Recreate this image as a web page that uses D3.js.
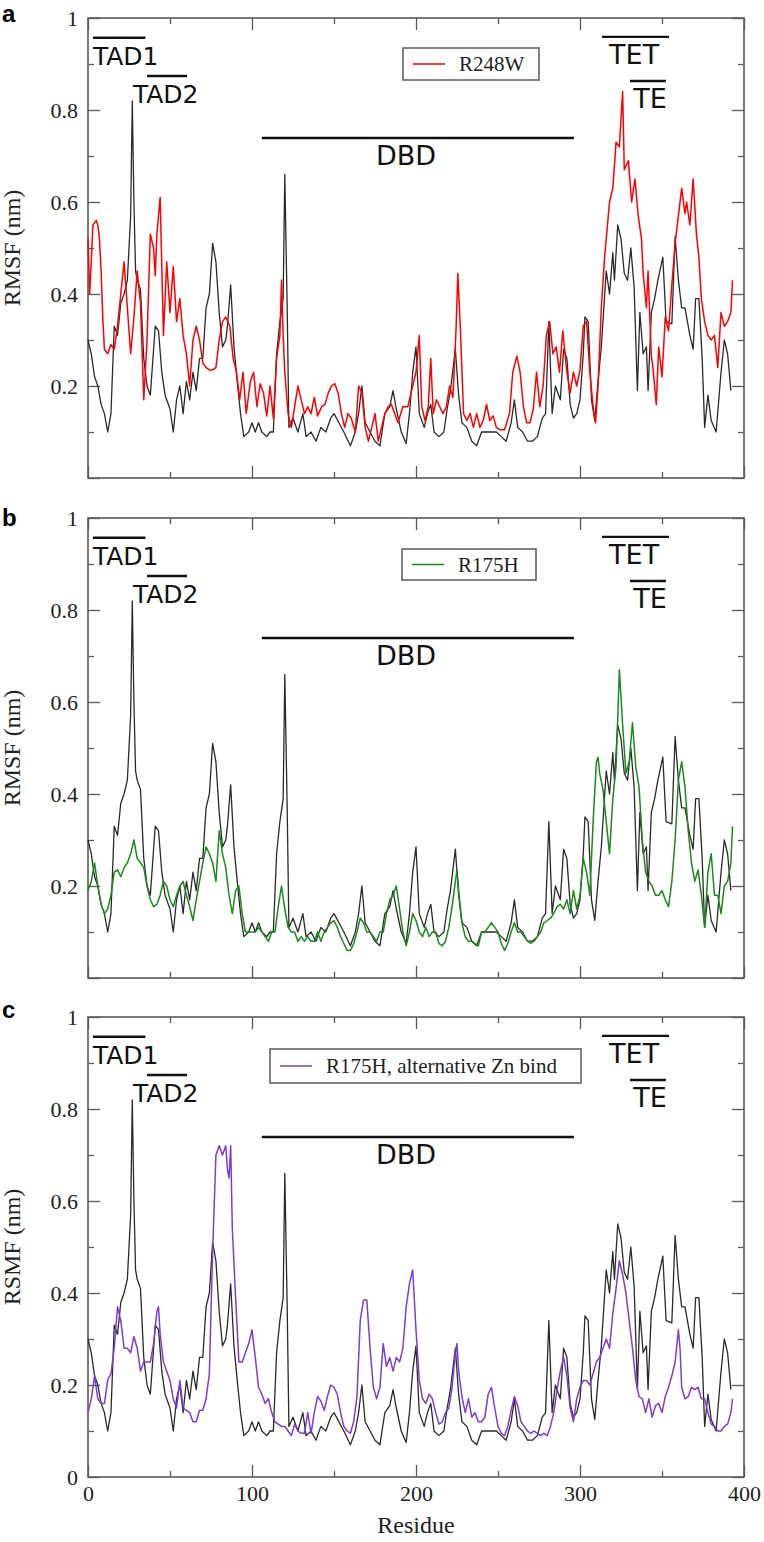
<!DOCTYPE html>
<html>
<head>
<meta charset="utf-8">
<script src="https://cdn.jsdelivr.net/npm/d3@7"></script>
<style>
  body { margin: 0; background: #fff; }
</style>
</head>
<body>
<div id="chart"></div>
<script>
// residue, RMSF (nm)
const wildType = [[0,0.30],[2,0.27],[4,0.22],[6,0.20],[8,0.16],[10,0.14],[12,0.10],[14,0.14],[16,0.33],[18,0.31],[20,0.38],[22,0.40],[24,0.43],[26,0.57],[27,0.82],[28,0.6],[29,0.45],[30,0.43],[32,0.41],[34,0.26],[36,0.20],[38,0.18],[40,0.28],[41,0.33],[43,0.32],[45,0.23],[47,0.18],[50,0.15],[52,0.10],[54,0.17],[56,0.20],[58,0.14],[60,0.21],[62,0.17],[64,0.23],[66,0.19],[68,0.26],[70,0.26],[72,0.37],[74,0.40],[76,0.51],[78,0.47],[80,0.36],[82,0.285],[84,0.30],[85,0.33],[87,0.42],[89,0.285],[91,0.21],[93,0.14],[95,0.09],[98,0.10],[100,0.12],[102,0.10],[104,0.12],[106,0.10],[109,0.09],[111,0.10],[113,0.10],[115,0.27],[117,0.34],[119,0.39],[120,0.66],[121.5,0.36],[122.5,0.11],[125,0.13],[128,0.10],[131,0.14],[133,0.09],[136,0.10],[139,0.08],[142,0.11],[145,0.10],[148,0.13],[150,0.14],[153,0.12],[156,0.10],[160,0.07],[163,0.10],[165,0.14],[167,0.20],[169,0.12],[172,0.10],[175,0.08],[178,0.07],[181,0.14],[184,0.155],[186,0.19],[188,0.15],[191,0.10],[194,0.075],[196,0.14],[198,0.23],[200,0.285],[202,0.14],[205,0.11],[207,0.14],[209,0.16],[211,0.10],[214,0.09],[217,0.10],[219,0.15],[221,0.19],[224,0.28],[226,0.18],[228,0.12],[231,0.11],[234,0.08],[237,0.07],[240,0.10],[243,0.10],[246,0.10],[249,0.10],[252,0.09],[255,0.08],[258,0.12],[260,0.17],[262,0.11],[265,0.10],[268,0.08],[271,0.08],[274,0.09],[277,0.13],[279,0.14],[281,0.34],[283,0.14],[285,0.20],[288,0.17],[290,0.28],[292,0.26],[294,0.16],[296,0.13],[298,0.14],[300,0.17],[302,0.27],[303,0.35],[305,0.34],[307,0.17],[309,0.125],[311,0.21],[313,0.285],[316,0.45],[318,0.40],[320,0.49],[321,0.43],[323,0.55],[325,0.52],[327,0.445],[329,0.43],[331,0.50],[333,0.415],[335,0.19],[336.5,0.36],[338.5,0.27],[340.5,0.285],[341.5,0.19],[343.5,0.36],[345.5,0.39],[347.5,0.43],[350.5,0.48],[352.5,0.34],[356,0.335],[358,0.525],[360,0.43],[362,0.37],[364,0.37],[367,0.31],[369,0.28],[370.5,0.39],[372.5,0.39],[374.5,0.26],[376,0.11],[378,0.18],[380,0.125],[383,0.10],[386,0.23],[388,0.30],[390,0.27],[392,0.19]]

const r248w = [[0,0.52],[1,0.40],[2,0.47],[3,0.55],[5,0.56],[6,0.55],[7,0.52],[8,0.45],[9,0.35],[10,0.28],[12,0.27],[14,0.29],[16,0.28],[18,0.33],[20,0.40],[22,0.47],[24,0.37],[26,0.27],[28,0.35],[30,0.45],[32,0.38],[34,0.17],[36,0.30],[38,0.53],[40,0.50],[41,0.44],[42,0.53],[44,0.61],[46,0.31],[48,0.47],[50,0.36],[52,0.46],[54,0.34],[56,0.39],[58,0.31],[60,0.27],[62,0.20],[64,0.30],[66,0.33],[68,0.30],[70,0.25],[72,0.24],[74,0.235],[76,0.235],[78,0.24],[80,0.30],[82,0.34],[84,0.35],[86.5,0.33],[88.5,0.26],[90.5,0.23],[92.5,0.17],[94.5,0.23],[96.5,0.14],[99,0.21],[101,0.23],[103,0.155],[105,0.205],[107,0.185],[109,0.135],[111,0.20],[113,0.13],[115,0.26],[117,0.31],[118,0.43],[119,0.31],[120,0.23],[122,0.14],[124,0.11],[126,0.155],[128,0.20],[130,0.17],[132,0.14],[134,0.155],[136,0.14],[138,0.175],[140,0.135],[142.5,0.155],[144.5,0.16],[146.5,0.185],[148.5,0.20],[150.5,0.205],[152.5,0.185],[154.5,0.14],[156.5,0.11],[158.5,0.14],[160.5,0.13],[163,0.10],[165,0.20],[167,0.185],[169,0.11],[171,0.08],[173,0.11],[175,0.14],[177,0.08],[179,0.11],[181,0.14],[183,0.155],[185,0.16],[187,0.14],[189,0.12],[192,0.155],[195,0.155],[198,0.20],[200,0.23],[202,0.31],[203.5,0.155],[205.5,0.125],[207.5,0.155],[209,0.26],[210.5,0.14],[212.5,0.17],[214.5,0.155],[216.5,0.14],[218.5,0.155],[220.5,0.20],[222.5,0.175],[224.5,0.33],[225.5,0.445],[227,0.33],[229,0.14],[231,0.125],[233,0.14],[235,0.11],[237,0.14],[239,0.11],[241,0.125],[243,0.16],[245,0.125],[247,0.135],[249,0.11],[251,0.105],[254,0.105],[257,0.14],[259,0.23],[261.5,0.265],[263.5,0.23],[265.5,0.155],[267.5,0.12],[269.5,0.12],[271.5,0.15],[273.5,0.23],[275.5,0.155],[277.5,0.20],[279.5,0.31],[281.5,0.34],[283.5,0.27],[285.5,0.285],[287.5,0.23],[289.5,0.32],[292,0.23],[294,0.185],[296,0.23],[298,0.20],[300,0.235],[302,0.33],[304,0.34],[306,0.23],[308,0.155],[309.5,0.12],[311,0.20],[313,0.37],[315,0.48],[316,0.52],[318,0.60],[320,0.63],[322,0.73],[324,0.72],[326,0.84],[327,0.67],[329.5,0.69],[331.5,0.60],[333.5,0.65],[335.5,0.57],[337.5,0.52],[338.5,0.445],[340.5,0.37],[341.5,0.45],[343.5,0.265],[344.5,0.24],[346.5,0.16],[348,0.285],[350,0.22],[352,0.35],[354,0.32],[356,0.42],[358,0.51],[360,0.57],[362,0.63],[364,0.575],[365,0.60],[367,0.55],[369,0.65],[371,0.53],[372.5,0.48],[374,0.39],[376,0.34],[378,0.31],[380,0.30],[382,0.31],[384,0.24],[386,0.36],[388,0.33],[390,0.34],[392,0.36],[393,0.43]]

const r175h = [[0,0.19],[2,0.21],[4,0.25],[6,0.20],[8,0.16],[10,0.14],[12,0.15],[14,0.18],[16,0.23],[18,0.235],[20,0.22],[22,0.24],[24,0.25],[26,0.27],[28,0.30],[30,0.26],[32,0.25],[34,0.24],[36,0.20],[38,0.17],[40,0.155],[42,0.16],[44,0.18],[46,0.21],[48,0.20],[50,0.17],[52,0.155],[54,0.18],[56,0.20],[58,0.21],[60,0.18],[62,0.155],[64,0.125],[66,0.17],[68,0.21],[70,0.25],[72,0.285],[74,0.27],[76,0.25],[78,0.21],[80,0.32],[82,0.27],[84,0.24],[86,0.18],[88,0.14],[90,0.19],[92,0.20],[94,0.14],[96,0.10],[98,0.10],[100,0.10],[102,0.10],[104,0.11],[106,0.10],[108,0.09],[110,0.08],[112,0.10],[114,0.10],[116,0.155],[118,0.20],[120,0.15],[122,0.11],[124,0.10],[126,0.10],[128,0.08],[130,0.09],[132,0.08],[134,0.09],[136,0.08],[138,0.08],[140,0.10],[142,0.08],[144,0.10],[146,0.11],[148,0.12],[150,0.125],[152,0.11],[154,0.09],[156,0.075],[158,0.06],[160,0.06],[162,0.075],[164,0.10],[166,0.13],[168,0.12],[170,0.10],[172,0.10],[174,0.09],[176,0.08],[178,0.10],[180,0.10],[182,0.14],[184,0.17],[186,0.18],[188,0.20],[190,0.15],[192,0.10],[194,0.07],[196,0.10],[198,0.14],[200,0.125],[202,0.10],[204,0.09],[206,0.11],[208,0.09],[210,0.10],[212,0.10],[214,0.075],[216,0.07],[218,0.08],[220,0.11],[222,0.155],[224,0.21],[225,0.235],[226,0.19],[228,0.12],[230,0.09],[232,0.08],[234,0.08],[236,0.075],[238,0.07],[240,0.10],[242,0.10],[244,0.11],[246,0.12],[248,0.11],[250,0.10],[252,0.075],[254,0.06],[256,0.075],[258,0.10],[260,0.12],[262,0.10],[264,0.10],[266,0.09],[268,0.08],[270,0.075],[272,0.08],[274,0.09],[276,0.10],[278,0.12],[280,0.125],[282,0.13],[284,0.14],[286,0.155],[288,0.16],[290,0.15],[292,0.17],[294,0.14],[296,0.19],[298,0.15],[300,0.18],[302,0.26],[304,0.23],[306,0.18],[308,0.34],[310,0.47],[311,0.48],[312,0.445],[314,0.41],[316,0.34],[318,0.27],[320,0.39],[322,0.46],[324,0.67],[326,0.55],[328,0.445],[330,0.47],[332,0.555],[334,0.46],[336,0.415],[338,0.30],[340,0.23],[342,0.21],[344,0.20],[346,0.18],[348,0.18],[350,0.19],[352,0.17],[354,0.155],[356,0.21],[358,0.30],[360,0.43],[362,0.47],[364,0.415],[366,0.32],[368,0.25],[370,0.21],[372,0.235],[374,0.18],[376,0.11],[378,0.23],[380,0.27],[382,0.18],[384,0.18],[386,0.14],[388,0.20],[390,0.21],[392,0.25],[393,0.33]]

const r175hZn = [[0,0.14],[2,0.17],[4,0.22],[6,0.17],[8,0.16],[10,0.16],[12,0.21],[14,0.225],[16,0.28],[18,0.37],[20,0.34],[22,0.28],[24,0.28],[26,0.27],[28,0.305],[30,0.28],[32,0.23],[34,0.25],[36,0.25],[38,0.25],[40,0.29],[42,0.36],[43,0.37],[44,0.31],[46,0.25],[48,0.23],[50,0.21],[52,0.17],[54,0.15],[56,0.21],[58,0.15],[60,0.145],[62,0.14],[64,0.12],[66,0.12],[68,0.145],[70,0.145],[72,0.17],[74,0.225],[76,0.49],[78,0.70],[80,0.72],[82,0.70],[84,0.72],[85,0.67],[86,0.65],[87,0.72],[88,0.54],[90,0.39],[92,0.25],[94,0.25],[96,0.27],[98,0.29],[100,0.32],[102,0.26],[104,0.195],[106,0.18],[108,0.16],[110,0.17],[112,0.14],[114,0.12],[116,0.115],[118,0.11],[120,0.11],[122,0.10],[124,0.09],[126,0.115],[128,0.10],[130,0.095],[132,0.095],[134,0.14],[136,0.095],[138,0.14],[140,0.175],[142,0.165],[144,0.145],[146,0.175],[148,0.20],[150,0.195],[152,0.18],[154,0.14],[156,0.11],[158,0.10],[160,0.095],[162,0.12],[164,0.175],[166,0.34],[168,0.385],[170,0.385],[172,0.28],[174,0.195],[176,0.17],[178,0.195],[180,0.29],[182,0.24],[184,0.26],[186,0.23],[188,0.26],[190,0.25],[192,0.28],[194,0.37],[196,0.42],[198,0.45],[200,0.32],[202,0.21],[204,0.17],[206,0.16],[208,0.18],[210,0.17],[212,0.14],[214,0.115],[216,0.12],[218,0.14],[220,0.15],[222,0.195],[224,0.27],[225,0.29],[226,0.23],[228,0.175],[230,0.14],[232,0.17],[234,0.13],[236,0.14],[238,0.12],[240,0.12],[242,0.13],[244,0.18],[246,0.195],[248,0.15],[250,0.11],[252,0.095],[254,0.09],[256,0.11],[258,0.145],[260,0.175],[262,0.155],[264,0.12],[266,0.11],[268,0.10],[270,0.095],[272,0.10],[274,0.095],[276,0.09],[278,0.095],[280,0.09],[282,0.11],[284,0.14],[286,0.19],[288,0.23],[290,0.26],[292,0.22],[294,0.15],[296,0.12],[298,0.17],[300,0.195],[302,0.21],[304,0.21],[306,0.20],[308,0.225],[310,0.25],[312,0.26],[314,0.28],[316,0.30],[318,0.28],[320,0.355],[322,0.41],[324,0.47],[326,0.44],[328,0.40],[330,0.34],[332,0.28],[334,0.21],[336,0.175],[338,0.17],[340,0.14],[342,0.17],[344,0.13],[346,0.155],[348,0.16],[350,0.14],[352,0.175],[354,0.195],[356,0.22],[358,0.25],[360,0.32],[361,0.28],[362,0.195],[364,0.17],[366,0.175],[368,0.195],[370,0.19],[372,0.195],[374,0.17],[376,0.17],[378,0.14],[380,0.115],[382,0.11],[384,0.10],[386,0.10],[388,0.11],[390,0.115],[392,0.14],[393,0.17]]

// protein domains: name, residue span, bar level (nm)
const domainNames = [`TAD1`, `TAD2`, `DBD`, `TET`, `TE`]
const domainStart = [3, 36, 106, 313.4, 330.5]
const domainEnd = [35, 60.4, 296.3, 354.3, 352.4]
const domainLevel = [0.957, 0.874, 0.739, 0.959, 0.863]

const xMajor = [0, 100, 200, 300, 400]
const xMinor = [50, 150, 250, 350]
const yMajor = [0, 0.2, 0.4, 0.6, 0.8, 1]
const yMinor = [0.1, 0.3, 0.5, 0.7, 0.9]

const width = 764, height = 1542
const plotLeft = 88, plotRight = 744, plotHeight = 460

// label placement for each domain (residue of text anchor)
const domainText = [
    { at: 3, anchor: `start`, size: 25 },
    { at: 27.4, anchor: `start`, size: 25 },
    { at: 175.6, anchor: `start`, size: 27 },
    { at: 333, anchor: `middle`, size: 27 },
    { at: 342.7, anchor: `middle`, size: 27 }
]

const panels = [
    { letter: `a`, top: 18, letterY: 22, series: r248w, color: `#ff0000`, legend: `R248W`, yLabel: `RMSF (nm)`, zero: false, box: [403, 30, 136, 32] },
    { letter: `b`, top: 518, letterY: 526, series: r175h, color: `#1a8a1a`, legend: `R175H`, yLabel: `RMSF (nm)`, zero: false, box: [402, 31, 134, 31] },
    { letter: `c`, top: 1017, letterY: 1018, series: r175hZn, color: `#7d3dd2`, legend: `R175H, alternative Zn bind`, yLabel: `RSMF (nm)`, zero: true, box: [270, 32, 311, 34] }
]

const svg = d3.select(`#chart`).append(`svg`)
    .attr(`width`, width)
    .attr(`height`, height)
    .attr(`viewBox`, `0 0 ${width} ${height}`)

const x = d3.scaleLinear().domain([0, 400]).range([plotLeft, plotRight])

const frameColor = `#5a5a5a`
const serif = `"Liberation Serif", "Times New Roman", serif`

function styleAxis(g, labels) {
    g.select(`.domain`).remove()
    g.selectAll(`.tick line`).attr(`stroke`, frameColor).attr(`stroke-width`, 1.3)
    g.attr(`font-family`, serif).attr(`font-size`, 22)
    g.selectAll(`.tick text`).attr(`fill`, `#222`)
    if(!labels) g.selectAll(`.tick text`).remove()
}

panels.forEach((p, idx) => {
    const bottom = p.top + plotHeight
    const y = d3.scaleLinear().domain([0, 1]).range([bottom, p.top])
    const g = svg.append(`g`)

    // ticks on all four sides, pointing inward
    const yLabels = p.zero ? yMajor : yMajor.slice(1)
    g.append(`g`).attr(`transform`, `translate(${plotLeft},0)`)
        .call(d3.axisLeft(y).tickValues(yMajor).tickSize(-12).tickPadding(10).tickFormat(d => yLabels.includes(d) ? d3.format(`~g`)(d) : ``))
        .call(a => styleAxis(a, true))
    g.append(`g`).attr(`transform`, `translate(${plotLeft},0)`)
        .call(d3.axisLeft(y).tickValues(yMinor).tickSize(-6)).call(a => styleAxis(a, false))
    g.append(`g`).attr(`transform`, `translate(${plotRight},0)`)
        .call(d3.axisRight(y).tickValues(yMajor).tickSize(-12)).call(a => styleAxis(a, false))
    g.append(`g`).attr(`transform`, `translate(${plotRight},0)`)
        .call(d3.axisRight(y).tickValues(yMinor).tickSize(-6)).call(a => styleAxis(a, false))
    g.append(`g`).attr(`transform`, `translate(0,${bottom})`)
        .call(d3.axisBottom(x).tickValues(xMajor).tickSize(-12).tickPadding(8).tickFormat(d3.format(`d`)))
        .call(a => styleAxis(a, idx === 2))
    g.append(`g`).attr(`transform`, `translate(0,${bottom})`)
        .call(d3.axisBottom(x).tickValues(xMinor).tickSize(-6)).call(a => styleAxis(a, false))
    g.append(`g`).attr(`transform`, `translate(0,${p.top})`)
        .call(d3.axisTop(x).tickValues(xMajor).tickSize(-12)).call(a => styleAxis(a, false))
    g.append(`g`).attr(`transform`, `translate(0,${p.top})`)
        .call(d3.axisTop(x).tickValues(xMinor).tickSize(-6)).call(a => styleAxis(a, false))

    g.append(`rect`)
        .attr(`x`, plotLeft).attr(`y`, p.top)
        .attr(`width`, plotRight - plotLeft).attr(`height`, plotHeight)
        .attr(`fill`, `none`).attr(`stroke`, frameColor).attr(`stroke-width`, 1.6)

    const line = d3.line().x(d => x(d[0])).y(d => y(d[1]))

    g.append(`path`).datum(wildType)
        .attr(`d`, line).attr(`fill`, `none`)
        .attr(`stroke`, `#2a2a2a`).attr(`stroke-width`, 1.3).attr(`stroke-linejoin`, `round`)
    g.append(`path`).datum(p.series)
        .attr(`d`, line).attr(`fill`, `none`)
        .attr(`stroke`, p.color).attr(`stroke-width`, 1.5).attr(`stroke-linejoin`, `round`)

    // domain bars and names
    domainNames.forEach((name, i) => {
        const ly = y(domainLevel[i])
        g.append(`line`)
            .attr(`x1`, x(domainStart[i])).attr(`x2`, x(domainEnd[i]))
            .attr(`y1`, ly).attr(`y2`, ly)
            .attr(`stroke`, `#111`).attr(`stroke-width`, 2.4)
        g.append(`text`)
            .attr(`x`, x(domainText[i].at)).attr(`y`, ly + 27)
            .attr(`text-anchor`, domainText[i].anchor)
            .attr(`font-family`, `"DejaVu Sans", sans-serif`)
            .attr(`font-size`, domainText[i].size)
            .attr(`fill`, `#111`)
            .text(name)
    })

    // legend
    const [bx, by, bw, bh] = p.box
    g.append(`rect`)
        .attr(`x`, bx).attr(`y`, p.top + by).attr(`width`, bw).attr(`height`, bh)
        .attr(`fill`, `#fff`).attr(`stroke`, frameColor).attr(`stroke-width`, 1.5)
    g.append(`line`)
        .attr(`x1`, bx + 10).attr(`x2`, bx + 42)
        .attr(`y1`, p.top + by + bh / 2).attr(`y2`, p.top + by + bh / 2)
        .attr(`stroke`, p.color).attr(`stroke-width`, 1.5)
    g.append(`text`)
        .attr(`x`, bx + 56).attr(`y`, p.top + by + bh / 2 + 7)
        .attr(`font-family`, serif).attr(`font-size`, 21).attr(`fill`, `#222`)
        .text(p.legend)

    // axis title
    g.append(`text`)
        .attr(`transform`, `translate(20,${p.top + plotHeight / 2}) rotate(-90)`)
        .attr(`text-anchor`, `middle`)
        .attr(`font-family`, serif).attr(`font-size`, 24).attr(`fill`, `#222`)
        .text(p.yLabel)

    // panel letter
    svg.append(`text`)
        .attr(`x`, 2).attr(`y`, p.letterY)
        .attr(`font-family`, `"Liberation Sans", Arial, sans-serif`)
        .attr(`font-weight`, `bold`).attr(`font-size`, 24)
        .text(p.letter)
})

svg.append(`text`)
    .attr(`x`, (plotLeft + plotRight) / 2).attr(`y`, 1533)
    .attr(`text-anchor`, `middle`)
    .attr(`font-family`, serif).attr(`font-size`, 24).attr(`fill`, `#222`)
    .text(`Residue`)
</script>
</body>
</html>
